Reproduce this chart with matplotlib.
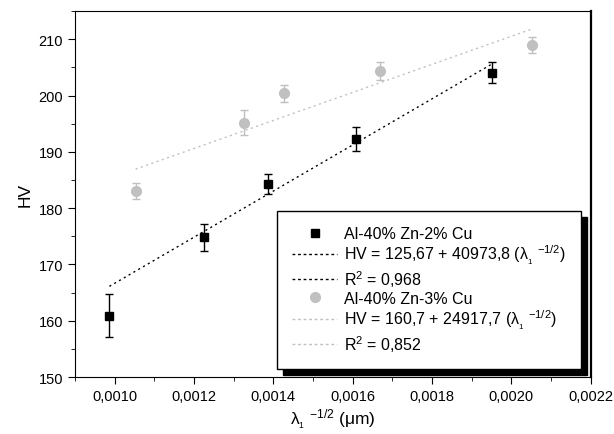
import numpy as np
import matplotlib
matplotlib.use('Agg')
import matplotlib.pyplot as plt
from matplotlib.ticker import FuncFormatter, MultipleLocator
from matplotlib.lines import Line2D
from matplotlib.patches import Rectangle

plt.rcParams['font.family'] = 'Liberation Sans'
plt.rcParams['mathtext.fontset'] = 'custom'
plt.rcParams['mathtext.rm'] = 'Liberation Sans'
plt.rcParams['mathtext.it'] = 'Liberation Sans'

# Al-40% Zn-2% Cu
x_cu2 = [0.000987, 0.001225, 0.001387, 0.001608, 0.001952]
hv_cu2 = [160.9, 174.8, 184.3, 192.3, 204.1]
err_cu2 = [3.8, 2.4, 1.8, 2.2, 1.8]

# Al-40% Zn-3% Cu
x_cu3 = [0.001053, 0.001326, 0.001426, 0.001670, 0.002053]
hv_cu3 = [183.0, 195.2, 200.4, 204.3, 209.0]
err_cu3 = [1.4, 2.2, 1.5, 1.6, 1.5]

# linear fits given in the legend
fit_cu2 = (125.67, 40973.8)
fit_cu3 = (160.7, 24917.7)

labels = ['Al-40% Zn-2% Cu',
          r'HV = 125,67 + 40973,8 ($\lambda_{_1}$ $^{-1/2}$)',
          r'R$^2$ = 0,968',
          'Al-40% Zn-3% Cu',
          r'HV = 160,7 + 24917,7 ($\lambda_{_1}$ $^{-1/2}$)',
          r'R$^2$ = 0,852']

gray = '#c0c0c0'

fig = plt.figure(figsize=(6.14, 4.35), dpi=100)
ax = fig.add_axes([0.122, 0.131, 0.840, 0.841])

xf2 = np.array([x_cu2[0], x_cu2[-1]])
xf3 = np.array([x_cu3[0], x_cu3[-1]])
ax.plot(xf2, fit_cu2[0] + fit_cu2[1] * xf2, color='black', lw=1, ls=(0, (1.5, 2.5)))
ax.plot(xf3, fit_cu3[0] + fit_cu3[1] * xf3, color=gray, lw=1, ls=(0, (1.5, 2.5)))

ax.errorbar(x_cu2, hv_cu2, yerr=err_cu2, fmt='s', color='black', ms=6,
            capsize=3, elinewidth=1, capthick=1)
ax.errorbar(x_cu3, hv_cu3, yerr=err_cu3, fmt='o', color=gray, ms=7,
            capsize=3, elinewidth=1, capthick=1)

ax.set_xlim(0.0009, 0.0022)
ax.set_ylim(150, 215)
ax.xaxis.set_major_locator(MultipleLocator(0.0002))
ax.xaxis.set_minor_locator(MultipleLocator(0.0001))
ax.yaxis.set_major_locator(MultipleLocator(10))
ax.yaxis.set_minor_locator(MultipleLocator(5))
ax.xaxis.set_major_formatter(FuncFormatter(lambda v, p: '{:.4f}'.format(v).replace('.', ',')))
ax.tick_params(which='both', direction='out', labelsize=10.5)
ax.tick_params(which='major', length=5)
ax.tick_params(which='minor', length=3)
ax.spines['right'].set_linewidth(1.6)

ax.set_xlabel(r'$\lambda_{_1}$ $^{-1/2}$ ($\mu$m)', fontsize=12.5, labelpad=3)
ax.set_ylabel('HV', fontsize=12.5)

handles = [Line2D([], [], marker='s', color='black', ls='none', ms=6),
           Line2D([], [], color='black', lw=1, ls=(0, (2, 2))),
           Line2D([], [], color='black', lw=1, ls=(0, (2, 2))),
           Line2D([], [], marker='o', color=gray, ls='none', ms=7),
           Line2D([], [], color=gray, lw=1, ls=(0, (2, 2))),
           Line2D([], [], color=gray, lw=1, ls=(0, (2, 2)))]
leg = ax.legend(handles, labels, loc='lower left', bbox_to_anchor=(0.391, 0.022),
                fontsize=11.5, handlelength=2.85, handletextpad=0.4, labelspacing=0.12,
                borderpad=0.95, borderaxespad=0, fancybox=False, framealpha=1,
                edgecolor='black')
leg.get_frame().set_linewidth(1)

# solid offset shadow behind the legend box
fig.canvas.draw()
bb = leg.get_window_extent().transformed(ax.transAxes.inverted())
ax.add_patch(Rectangle((bb.x0 + 6 / 516, bb.y0 - 6 / 366), bb.width, bb.height,
                       transform=ax.transAxes, color='black', zorder=4, clip_on=False))
leg.set_zorder(5)

fig.savefig('out.png', dpi=100)
